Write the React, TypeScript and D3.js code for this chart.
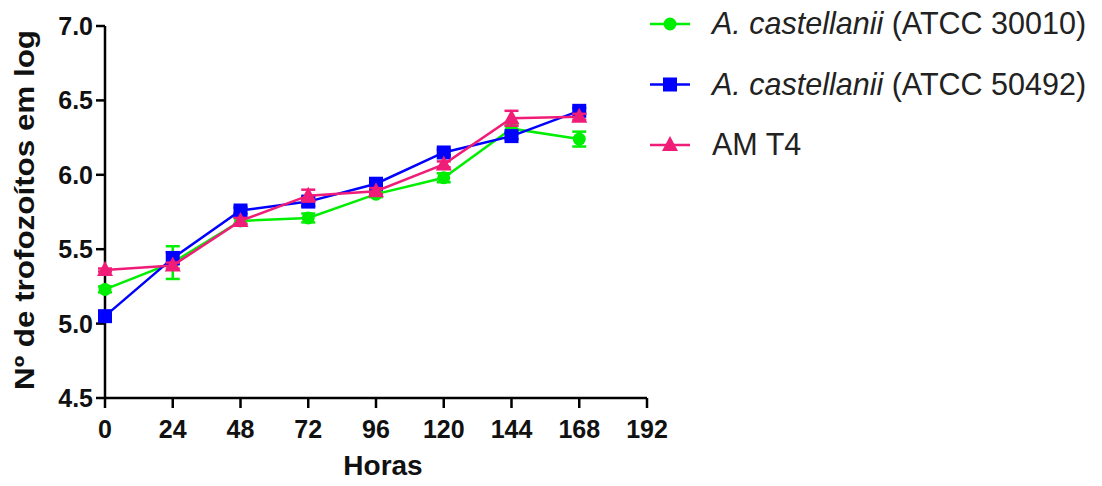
import React from "react";
import * as d3 from "d3";

const hours = [0, 24, 48, 72, 96, 120, 144, 168];
const xTicks = [0, 24, 48, 72, 96, 120, 144, 168, 192];
const yTicks = [4.5, 5.0, 5.5, 6.0, 6.5, 7.0];

const atcc30010 = [5.23, 5.41, 5.69, 5.71, 5.87, 5.98, 6.31, 6.24];
const atcc30010Err = [0.02, 0.11, 0.02, 0.03, 0.02, 0.03, 0.02, 0.05];
const atcc50492 = [5.05, 5.44, 5.76, 5.82, 5.94, 6.15, 6.26, 6.43];
const atcc50492Err = [0.03, 0.04, 0.02, 0.03, 0.02, 0.02, 0.02, 0.02];
const amT4 = [5.36, 5.39, 5.69, 5.86, 5.89, 6.07, 6.38, 6.39];
const amT4Err = [0.01, 0.02, 0.02, 0.04, 0.02, 0.02, 0.05, 0.02];

const series = [
  { name: "30010", italic: "A. castellanii", rest: " (ATCC 30010)", values: atcc30010, err: atcc30010Err, color: "#00ee00", shape: "circle" },
  { name: "50492", italic: "A. castellanii", rest: " (ATCC 50492)", values: atcc50492, err: atcc50492Err, color: "#0000ff", shape: "square" },
  { name: "amt4", italic: "", rest: "AM T4", values: amT4, err: amT4Err, color: "#f01d78", shape: "triangle" },
];

function Marker({ shape, x, y, color }: { shape: string; x: number; y: number; color: string }) {
  if (shape === "circle") return <circle cx={x} cy={y} r={6.5} fill={color} />;
  if (shape === "square") return <rect x={x - 7} y={y - 7} width={14} height={14} fill={color} />;
  return <path d={`M${x},${y - 9} L${x + 8},${y + 6} L${x - 8},${y + 6} Z`} fill={color} />;
}

export default function App() {
  const W = 1102, H = 486;
  const x = d3.scaleLinear().domain([0, 192]).range([105, 647]);
  const y = d3.scaleLinear().domain([4.5, 7.0]).range([398, 26]);
  const font = "'Liberation Sans', Arial, sans-serif";
  const line = d3.line<number>().x((_, i) => x(hours[i])).y((v) => y(v));

  return (
    <svg width={W} height={H} style={{ position: "absolute", left: 0, top: 0, background: "#fff" }} fontFamily={font}>
      {/* axes */}
      <line x1={x(0)} x2={x(0)} y1={y(7.0)} y2={y(4.5) + 1} stroke="#000" strokeWidth={2.5} />
      <line x1={x(0) - 1} x2={x(192)} y1={y(4.5)} y2={y(4.5)} stroke="#000" strokeWidth={2.5} />
      {yTicks.map((t) => (
        <g key={"y" + t}>
          <line x1={x(0) - 9} x2={x(0)} y1={y(t)} y2={y(t)} stroke="#000" strokeWidth={2.5} />
          <text x={x(0) - 12} y={y(t)} dy="0.36em" textAnchor="end" fontSize={25} fontWeight="bold" fill="#111">{t.toFixed(1)}</text>
        </g>
      ))}
      {xTicks.map((t) => (
        <g key={"x" + t}>
          <line x1={x(t)} x2={x(t)} y1={y(4.5)} y2={y(4.5) + 10} stroke="#000" strokeWidth={2.5} />
          <text x={x(t)} y={438} textAnchor="middle" fontSize={25} fontWeight="bold" fill="#111">{t}</text>
        </g>
      ))}
      <text x={383} y={475} textAnchor="middle" fontSize={28} fontWeight="bold" fill="#111">Horas</text>
      <text transform={`translate(34,210) rotate(-90)`} textAnchor="middle" fontSize={28} fontWeight="bold" fill="#111" textLength={360} lengthAdjust="spacingAndGlyphs">Nº de trofozoítos em log</text>

      {/* series */}
      {series.map((s) => (
        <g key={s.name}>
          {s.values.map((v, i) => (
            <g key={i} stroke={s.color} strokeWidth={2.5}>
              <line x1={x(hours[i])} x2={x(hours[i])} y1={y(v - s.err[i])} y2={y(v + s.err[i])} />
              <line x1={x(hours[i]) - 7} x2={x(hours[i]) + 7} y1={y(v - s.err[i])} y2={y(v - s.err[i])} />
              <line x1={x(hours[i]) - 7} x2={x(hours[i]) + 7} y1={y(v + s.err[i])} y2={y(v + s.err[i])} />
            </g>
          ))}
          <path d={line(s.values) || ""} fill="none" stroke={s.color} strokeWidth={2.5} />
          {s.values.map((v, i) => (
            <Marker key={i} shape={s.shape} x={x(hours[i])} y={y(v)} color={s.color} />
          ))}
        </g>
      ))}

      {/* legend */}
      {series.map((s, i) => {
        const ly = 24 + i * 60.5;
        return (
          <g key={"lg" + s.name}>
            <line x1={650} x2={690} y1={ly} y2={ly} stroke={s.color} strokeWidth={2.5} />
            <Marker shape={s.shape} x={670} y={ly} color={s.color} />
            <text x={712} y={ly + 10} fontSize={30.5} fill="#222">
              {s.italic ? <tspan fontStyle="italic">{s.italic}</tspan> : null}
              <tspan>{s.rest}</tspan>
            </text>
          </g>
        );
      })}
    </svg>
  );
}
